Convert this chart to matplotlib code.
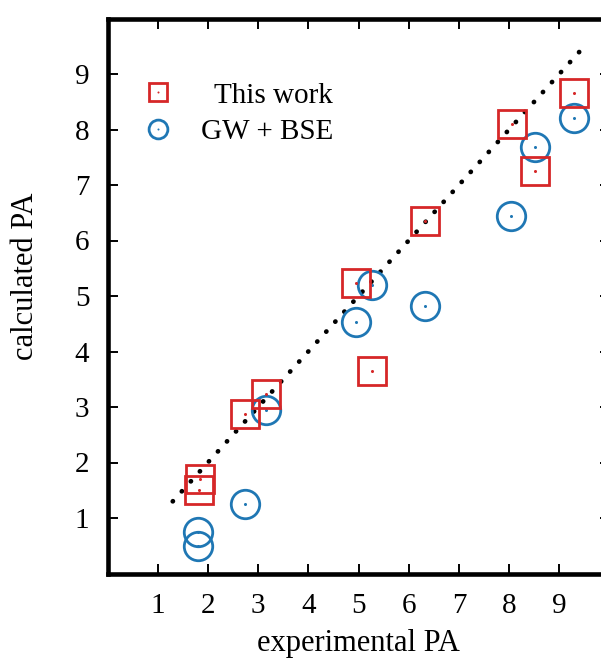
import matplotlib
matplotlib.use("Agg")
import matplotlib.pyplot as plt
from matplotlib.legend_handler import HandlerTuple

plt.rcParams['font.family'] = ['Liberation Serif', 'DejaVu Serif']

# Data
this_work_exp = [9.30, 8.05, 8.51, 6.32, 4.96, 5.27, 3.15, 2.73, 1.84, 1.83]
this_work_calc = [8.65, 8.10, 7.26, 6.36, 5.24, 3.64, 3.23, 2.87, 1.71, 1.51]
gwbse_exp = [9.30, 8.51, 8.04, 5.27, 4.96, 6.32, 3.15, 2.73, 1.81, 1.81]
gwbse_calc = [8.21, 7.68, 6.45, 5.20, 4.53, 4.82, 2.95, 1.26, 0.75, 0.50]
diag = [1.3, 9.5]
ticks = [1, 2, 3, 4, 5, 6, 7, 8, 9]
labels = ["This work", "GW + BSE"]

red = '#d62728'
blue = '#1f77b4'

fig = plt.figure(figsize=(6.01, 6.62), dpi=100)
ax = fig.add_axes([107.5 / 601, 88.5 / 662, 502 / 601, 555 / 662])

ax.plot(diag, diag, color='black', lw=3.4, linestyle=(0, (0.05, 2.8)),
        dash_capstyle='round', zorder=1)

sq, = ax.plot(this_work_exp, this_work_calc, linestyle='none', marker='s',
              markersize=20.5, markerfacecolor='none', markeredgecolor=red,
              markeredgewidth=2.0, zorder=3)
sqd, = ax.plot(this_work_exp, this_work_calc, linestyle='none', marker='o',
               markersize=2.2, color=red, markeredgewidth=0, zorder=3)
ci, = ax.plot(gwbse_exp, gwbse_calc, linestyle='none', marker='o',
              markersize=20.5, markerfacecolor='none', markeredgecolor=blue,
              markeredgewidth=2.0, zorder=2)
cid, = ax.plot(gwbse_exp, gwbse_calc, linestyle='none', marker='o',
               markersize=2.2, color=blue, markeredgewidth=0, zorder=2)

ax.set_xlim(0, 10)
ax.set_ylim(0, 10)
ax.set_xticks(ticks)
ax.set_yticks(ticks)
ax.tick_params(direction='in', length=7.2, width=1.4, labelsize=21,
               top=True, right=True, color='black')
ax.tick_params(axis='x', pad=14)
ax.tick_params(axis='y', pad=13)
for s in ax.spines.values():
    s.set_linewidth(3.3)

ax.set_xlabel('experimental PA', fontsize=22)
ax.set_ylabel('calculated PA', fontsize=22)
ax.xaxis.set_label_coords(0.5, -0.1005)
ax.yaxis.set_label_coords(-0.135, 0.535)

leg = ax.legend([(sq, sqd), (ci, cid)], labels,
                handler_map={tuple: HandlerTuple(ndivide=1, pad=0)},
                markerscale=0.66, frameon=False, fontsize=21,
                handlelength=1.5, handletextpad=0.5, labelspacing=0.34,
                borderpad=0, borderaxespad=0,
                loc='center', bbox_to_anchor=(0.253, 0.8286))
# right-align legend texts (gnuplot style)
for item in leg._legend_handle_box.get_children()[0].get_children():
    item.width = 197
    item.mode = 'expand'

fig.savefig('out.png', dpi=100)
